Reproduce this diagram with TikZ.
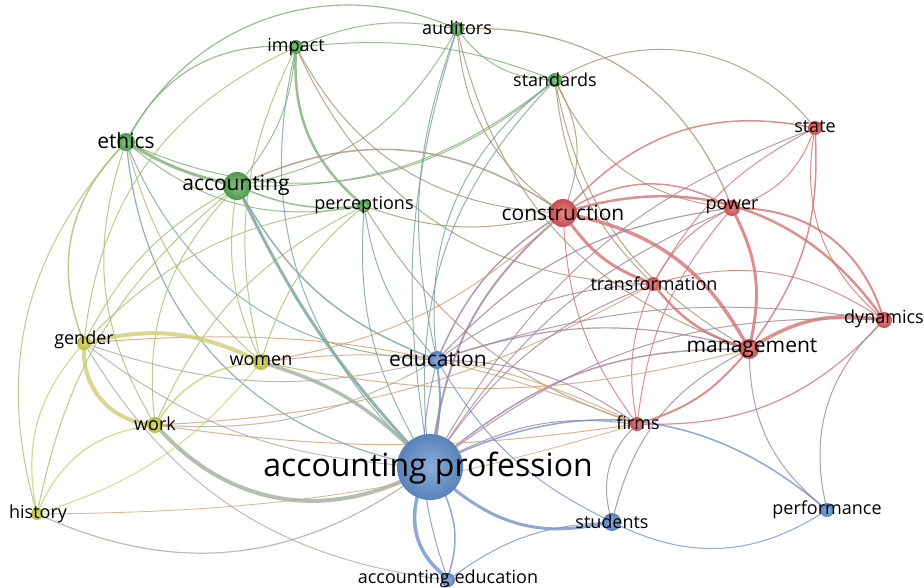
\documentclass[tikz,border=0pt]{standalone}
\usepackage{fontspec}
\setmainfont{Open Sans}
\pgfdeclarelayer{bg}
\pgfsetlayers{bg,main}
\definecolor{nG}{RGB}{85,170,85}
\definecolor{nR}{RGB}{220,85,85}
\definecolor{nB}{RGB}{100,145,205}
\definecolor{nY}{RGB}{205,205,70}
\definecolor{eG}{RGB}{125,175,115}
\definecolor{eR}{RGB}{210,115,115}
\definecolor{eB}{RGB}{115,145,200}
\definecolor{eY}{RGB}{205,205,115}
\tikzset{
  nd/.style={circle, inner sep=0pt, minimum size=#1},
  gn/.style={inner color=nG!70!white, outer color=nG!90!black},
  rn/.style={inner color=nR!70!white, outer color=nR!90!black},
  bn/.style={inner color=nB!75!white, outer color=nB!90!black},
  yn/.style={inner color=nY!70!white, outer color=nY!90!black},
  lb/.style={inner sep=0pt, text=black, font=\fontsize{18}{20}\selectfont},
  lbm/.style={inner sep=0pt, text=black, font=\fontsize{21}{23}\selectfont},
  lbl/.style={inner sep=0pt, text=black, font=\fontsize{32}{34}\selectfont},
  ed/.style={opacity=0.8, line cap=round}
}
\newcommand\edg[5]{\pgfmathsetmacro\bnd{min(1.6*#3,42)}\draw[ed, line width=#4, draw=#5] (#1) to[bend right=\bnd] (#2);}
\begin{document}
\begin{tikzpicture}[x=1pt,y=-1pt]
\useasboundingbox (0,0) rectangle (924,587);
% nodes
\node[nd=14, gn] (impact) at (296,47) {};
\node[nd=14, gn] (auditors) at (457,29) {};
\node[nd=14, gn] (standards) at (555,80) {};
\node[nd=18, gn] (ethics) at (126,142) {};
\node[nd=28, gn] (accounting) at (237,186) {};
\node[nd=13, gn] (perceptions) at (364,206) {};
\node[nd=28, rn] (construction) at (563,213) {};
\node[nd=16, rn] (power) at (732,208) {};
\node[nd=14, rn] (state) at (815,128) {};
\node[nd=14, rn] (transformation) at (653,284) {};
\node[nd=16, rn] (dynamics) at (884,320) {};
\node[nd=20, rn] (management) at (749,349) {};
\node[nd=14, rn] (firms) at (637,424) {};
\node[nd=14, yn] (gender) at (84,343) {};
\node[nd=16, yn] (women) at (261,362) {};
\node[nd=18, bn] (education) at (437,360) {};
\node[nd=16, yn] (work) at (155,425) {};
\node[nd=66, bn] (ap) at (430,467) {};
\node[nd=12, yn] (history) at (37,514) {};
\node[nd=18, bn] (students) at (612,522) {};
\node[nd=14, bn] (performance) at (827,510) {};
\node[nd=14, bn] (acced) at (448,580) {};
% edges
\begin{pgfonlayer}{bg}
% green
\edg{ethics}{accounting}{5}{3}{eG}
\edg{impact}{perceptions}{16}{2.5}{eG}
\edg{impact}{ethics}{20}{1.2}{eG}
\edg{auditors}{ethics}{26}{1.2}{eG}
\edg{auditors}{impact}{10}{1}{eG}
\edg{standards}{impact}{8}{1}{eG}
\edg{auditors}{standards}{15}{1}{eG}
\edg{accounting}{impact}{10}{1}{eG}
\edg{accounting}{perceptions}{8}{1.5}{eG}
\edg{accounting}{auditors}{15}{1}{eG}
\edg{accounting}{standards}{12}{1}{eG}
\edg{ethics}{perceptions}{15}{1}{eG}
\edg{ethics}{standards}{20}{1}{eG}
\edg{ethics}{gender}{20}{1.5}{eG!50!eY}
\edg{ethics}{work}{15}{1}{eG!50!eY}
\edg{ethics}{women}{10}{1}{eG!50!eY}
\edg{ethics}{education}{20}{1}{eG!50!eB}
\edg{ethics}{ap}{22}{1.2}{eG!50!eB}
\edg{ethics}{history}{18}{1}{eG!50!eY}
\edg{accounting}{ap}{5}{3}{eG!50!eB}
\edg{accounting}{education}{12}{1.5}{eG!50!eB}
\edg{accounting}{gender}{10}{1}{eG!50!eY}
\edg{accounting}{work}{15}{1}{eG!50!eY}
\edg{accounting}{women}{10}{1}{eG!50!eY}
\edg{accounting}{history}{12}{1}{eG!50!eY}
\edg{construction}{accounting}{18}{1.5}{eG!50!eR}
\edg{perceptions}{ap}{10}{1}{eG!50!eB}
\edg{perceptions}{education}{10}{1}{eG!50!eB}
\edg{perceptions}{women}{10}{1}{eG!50!eY}
\edg{perceptions}{gender}{12}{1}{eG!50!eY}
\edg{perceptions}{work}{12}{1}{eG!50!eY}
\edg{perceptions}{construction}{10}{1}{eG!50!eR}
\edg{perceptions}{firms}{12}{1}{eG!50!eR}
\edg{construction}{standards}{15}{1}{eG!50!eR}
\edg{standards}{power}{18}{1}{eG!50!eR}
\edg{power}{auditors}{22}{1.2}{eG!50!eR}
\edg{auditors}{construction}{15}{1}{eG!50!eR}
\edg{state}{standards}{25}{1}{eG!50!eR}
\edg{standards}{ap}{15}{1}{eG!50!eB}
\edg{standards}{transformation}{12}{1}{eG!50!eR}
\edg{standards}{management}{15}{1}{eG!50!eR}
\edg{impact}{ap}{18}{1}{eG!50!eB}
\edg{impact}{construction}{18}{1}{eG!50!eR}
\edg{impact}{women}{12}{1}{eG!50!eY}
\edg{impact}{gender}{18}{1}{eG!50!eY}
\edg{auditors}{education}{10}{1}{eG!50!eB}
\edg{auditors}{ap}{8}{1}{eG!50!eB}
\edg{auditors}{management}{18}{1}{eG!50!eR}
\edg{impact}{transformation}{20}{1}{eG!50!eR}
\edg{standards}{education}{18}{1}{eG!50!eB}
% red
\edg{power}{construction}{18}{1.5}{eR}
\edg{state}{construction}{18}{1.5}{eR}
\edg{construction}{transformation}{10}{3}{eR}
\edg{management}{construction}{15}{3.5}{eR}
\edg{dynamics}{construction}{22}{2.5}{eR}
\edg{construction}{firms}{10}{1}{eR}
\edg{construction}{education}{10}{1.5}{eR!50!eB}
\edg{construction}{ap}{12}{2}{eR!50!eB}
\edg{women}{construction}{10}{1}{eY!50!eR}
\edg{power}{state}{15}{1}{eR}
\edg{power}{transformation}{10}{1}{eR}
\edg{management}{power}{12}{3}{eR}
\edg{dynamics}{power}{22}{2}{eR}
\edg{power}{firms}{10}{1}{eR}
\edg{management}{state}{12}{1.5}{eR}
\edg{state}{dynamics}{18}{1}{eR}
\edg{state}{transformation}{10}{1}{eR}
\edg{transformation}{management}{10}{2.5}{eR}
\edg{dynamics}{transformation}{15}{1}{eR}
\edg{transformation}{firms}{10}{1}{eR}
\edg{dynamics}{management}{12}{3.5}{eR}
\edg{firms}{management}{10}{2}{eR}
\edg{management}{ap}{12}{1.5}{eR!50!eB}
\edg{management}{students}{15}{1}{eR!50!eB}
\edg{management}{performance}{15}{1}{eR!50!eB}
\edg{firms}{dynamics}{15}{1.2}{eR}
\edg{dynamics}{performance}{18}{1}{eR!50!eB}
\edg{dynamics}{ap}{12}{1}{eR!50!eB}
\edg{firms}{ap}{10}{1}{eR!50!eB}
\edg{firms}{students}{18}{1}{eR!50!eB}
\edg{firms}{gender}{8}{1}{eY!50!eR}
\edg{firms}{women}{10}{1}{eY!50!eR}
\edg{work}{firms}{5}{1}{eY!50!eR}
\edg{work}{transformation}{8}{1}{eY!50!eR}
\edg{women}{management}{8}{1}{eY!50!eR}
\edg{transformation}{ap}{10}{1}{eR!50!eB}
\edg{power}{education}{12}{1.2}{eR!50!eB}
\edg{transformation}{education}{10}{1}{eR!50!eB}
\edg{management}{education}{10}{1.2}{eR!50!eB}
\edg{dynamics}{education}{8}{1}{eR!50!eB}
\edg{firms}{education}{10}{1}{eR!50!eB}
\edg{power}{ap}{10}{1}{eR!50!eB}
\edg{state}{ap}{12}{1}{eR!50!eB}
% yellow
\edg{women}{gender}{12}{4}{eY}
\edg{gender}{work}{26}{4}{eY}
\edg{gender}{history}{16}{1.2}{eY}
\edg{gender}{ap}{10}{1}{eY!50!eB}
\edg{women}{work}{15}{1.5}{eY}
\edg{ap}{women}{8}{3.5}{eY!50!eB}
\edg{work}{ap}{22}{4}{eY!50!eB}
\edg{work}{history}{18}{1.2}{eY}
\edg{history}{ap}{18}{1.2}{eY!50!eB}
\edg{history}{women}{10}{1}{eY}
\edg{gender}{education}{10}{1}{eY!50!eB}
\edg{work}{education}{10}{1}{eY!50!eB}
\edg{history}{firms}{5}{0.8}{eY!50!eR}
% blue
\edg{ap}{education}{5}{2}{eB}
\edg{ap}{acced}{20}{3.5}{eB}
\edg{ap}{students}{16}{3}{eB}
\edg{performance}{ap}{20}{1.5}{eB}
\edg{education}{students}{10}{1}{eB}
\edg{education}{acced}{10}{1}{eB}
\edg{students}{performance}{18}{1}{eB}
\edg{students}{acced}{10}{1}{eB}
\edg{acced}{ap}{12}{1.5}{eB}
\edg{gender}{acced}{16}{1}{eY!50!eB}
\end{pgfonlayer}
% labels
\node[lb] (impact-l) at (296,47) {impact};
\node[lb] (auditors-l) at (457,28) {auditors};
\node[lb] (standards-l) at (555,80) {standards};
\node[lbm] (ethics-l) at (126,141) {ethics};
\node[lbm] (accounting-l) at (236,185) {accounting};
\node[lb] (perceptions-l) at (364,205) {perceptions};
\node[lbm] (construction-l) at (563,213) {construction};
\node[lb] (power-l) at (732,207) {power};
\node[lb] (state-l) at (815,127) {state};
\node[lb] (transformation-l) at (654,284) {transformation};
\node[lb] (dynamics-l) at (884,319) {dynamics};
\node[lbm] (management-l) at (752,348) {management};
\node[lb] (firms-l) at (638,423) {firms};
\node[lb] (gender-l) at (84,340) {gender};
\node[lb] (women-l) at (261,361) {women};
\node[lbm] (education-l) at (438,359) {education};
\node[lb] (work-l) at (155,424) {work};
\node[lbl] (ap-l) at (428,468) {accounting profession};
\node[lb] (history-l) at (38,514) {history};
\node[lb] (students-l) at (612,522) {students};
\node[lb] (performance-l) at (827,510) {performance};
\node[lb] (acced-l) at (448,579) {accounting education};
\end{tikzpicture}
\end{document}
